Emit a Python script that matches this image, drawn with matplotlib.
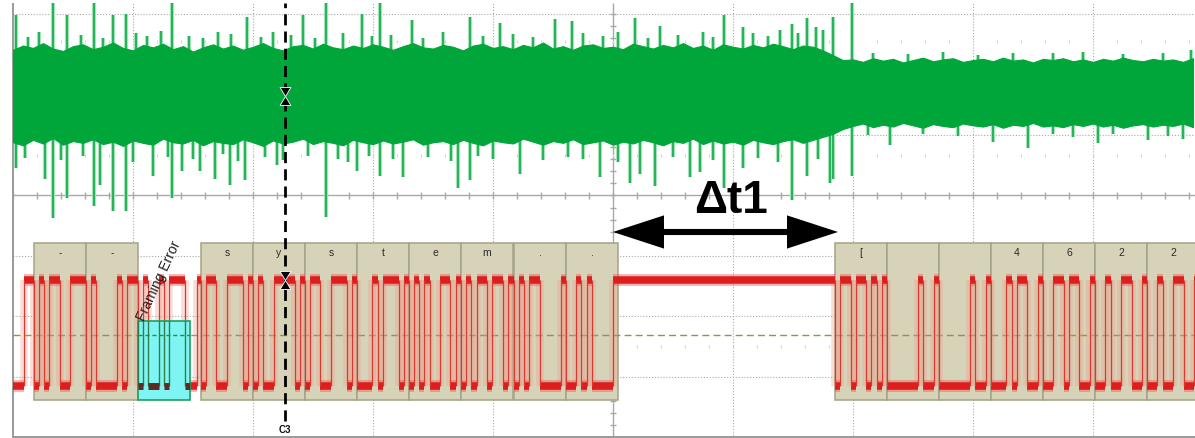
import numpy as np
import matplotlib
matplotlib.use("Agg")
import matplotlib.pyplot as plt
from matplotlib.patches import Rectangle, Polygon
from matplotlib.path import Path

# ---------------- time base / screen ----------------
# time in microseconds, 1200 us per horizontal division; vertical in divisions
T_DIV = 1200
T_END = 11820
Y_TOP, Y_BOT = 3.25, -4.012
SCREEN_TOP = 3.19

# ---------------- channel 1 (green): noisy carrier ----------------
env_t = np.arange(0, 11801, 100)
env_top = [2.41, 2.48, 2.44, 2.52, 2.43, 2.39, 2.47, 2.50, 2.42, 2.46,
           2.53, 2.44, 2.40, 2.49, 2.45, 2.51, 2.42, 2.47, 2.38, 2.45,
           2.50, 2.43, 2.48, 2.41, 2.46, 2.52, 2.44, 2.40, 2.47, 2.49,
           2.43, 2.51, 2.45, 2.42, 2.48, 2.44, 2.50, 2.46, 2.41, 2.47,
           2.52, 2.45, 2.43, 2.49, 2.46, 2.40, 2.48, 2.51, 2.44, 2.47,
           2.42, 2.49, 2.45, 2.53, 2.43, 2.47, 2.41, 2.48, 2.50, 2.44,
           2.46, 2.42, 2.51, 2.47, 2.43, 2.49, 2.45, 2.52, 2.44, 2.48,
           2.41, 2.50, 2.46, 2.43, 2.49, 2.45, 2.51, 2.47, 2.42, 2.48,
           2.46, 2.40, 2.32, 2.24,
           2.25, 2.21, 2.27, 2.23, 2.26, 2.20, 2.24, 2.28, 2.22, 2.25,
           2.27, 2.21, 2.24, 2.26, 2.22, 2.28, 2.23, 2.25, 2.20, 2.26,
           2.24, 2.27, 2.22, 2.25, 2.21, 2.26, 2.23, 2.28, 2.24, 2.22,
           2.26, 2.23, 2.25, 2.21, 2.27]
env_bot = [0.88, 0.83, 0.92, 0.86, 0.95, 0.84, 0.90, 0.87, 0.93, 0.85,
           0.89, 0.82, 0.91, 0.87, 0.84, 0.94, 0.88, 0.86, 0.92, 0.83,
           0.90, 0.87, 0.85, 0.93, 0.88, 0.82, 0.91, 0.86, 0.89, 0.94,
           0.85, 0.90, 0.87, 0.83, 0.92, 0.88, 0.85, 0.91, 0.86, 0.89,
           0.93, 0.84, 0.88, 0.90, 0.85, 0.92, 0.87, 0.83, 0.91, 0.88,
           0.86, 0.94, 0.89, 0.84, 0.90, 0.87, 0.93, 0.85, 0.88, 0.91,
           0.84, 0.89, 0.86, 0.92, 0.88, 0.83, 0.90, 0.87, 0.94, 0.85,
           0.91, 0.86, 0.89, 0.84, 0.92, 0.88, 0.85, 0.90, 0.93, 0.87,
           0.92, 0.97, 1.02, 1.10,
           1.15, 1.19, 1.13, 1.17, 1.14, 1.20, 1.16, 1.12, 1.18, 1.15,
           1.13, 1.19, 1.16, 1.14, 1.18, 1.12, 1.17, 1.15, 1.20, 1.14,
           1.16, 1.13, 1.18, 1.15, 1.19, 1.14, 1.17, 1.12, 1.16, 1.18,
           1.14, 1.17, 1.15, 1.19, 1.13]
ch1_center = 1.66

spike_up_t = [30, 150, 260, 400, 540, 680, 810, 900, 1000, 1130, 1230, 1340,
              1480, 1590, 1760, 1900, 2050, 2180, 2340, 2480, 2600, 2780,
              2900, 3020, 3130, 3300, 3490, 3590, 3670, 3780, 3990, 4100,
              4300, 4570, 4700, 4870, 5000, 5200, 5420, 5590, 5700, 5900,
              6050, 6220, 6350, 6470, 6650, 6900, 7000, 7110, 7300, 7400,
              7550, 7670, 7790, 7850, 7940, 8030, 8100, 8200, 8390,
              8600, 8950, 9300, 9650, 10000, 10400, 10700, 11100, 11500, 11780]
spike_up_v = [2.98, 2.62, 2.70, 3.19, 2.98, 2.66, 3.19, 2.60, 2.98, 3.01, 2.68, 2.63,
              2.72, 3.19, 2.64, 2.61, 2.71, 2.67, 2.96, 2.62, 2.70, 2.65,
              2.98, 2.60, 3.19, 2.69, 3.01, 2.63, 3.19, 2.66, 2.90, 2.61,
              2.70, 2.95, 2.64, 2.85, 2.67, 2.62, 2.92, 2.88, 2.68, 2.63,
              2.71, 2.93, 2.60, 2.80, 2.66, 2.70, 2.62, 2.98, 2.79, 2.68,
              2.64, 2.73, 2.84, 2.69, 2.93, 2.79, 2.74, 2.96, 3.19,
              2.36, 2.34, 2.38, 2.33, 2.36, 2.35, 2.37, 2.34, 2.36, 2.40]
spike_dn_t = [30, 120, 320, 400, 480, 540, 700, 810, 870, 1000, 1130, 1200,
              1400, 1550, 1590, 1690, 1800, 1870, 2020, 2100, 2170, 2250,
              2320, 2520, 2640, 2700, 2950, 3130, 3250, 3350, 3440, 3560,
              3670, 3800, 3900, 4150, 4380, 4450, 4570, 4650, 4800, 5070,
              5300, 5550, 5700, 5870, 6050, 6170, 6270, 6420, 6600, 6770,
              6870, 7000, 7110, 7300, 7450, 7650, 7790, 7940, 8050, 8170,
              8200, 8390, 8550, 8770, 9100, 9450, 9800, 10150, 10400,
              10600, 10850, 11000, 11350, 11550, 11700]
spike_dn_v = [0.45, 0.62, 0.28, -0.38, 0.58, -0.05, 0.66, -0.17, 0.17, -0.26, -0.25, 0.55,
              0.33, 0.63, -0.05, 0.40, 0.60, 0.40, 0.28, 0.68, 0.17, 0.57,
              0.25, 0.64, 0.50, 0.59, 0.66, -0.35, 0.61, 0.56, 0.40, 0.65,
              0.33, 0.60, 0.30, 0.63, 0.57, 0.12, 0.25, 0.66, 0.60, 0.35,
              0.58, 0.64, 0.61, 0.30, 0.55, 0.20, 0.35, 0.15, 0.63, 0.30,
              0.38, 0.59, 0.12, 0.45, 0.62, 0.56, -0.08, 0.33, 0.60, 0.20,
              0.28, 0.33, 1.00, 0.83, 1.02, 0.98, 0.89, 0.78, 1.01,
              0.97, 0.86, 1.02, 0.91, 0.99, 0.94]

# ---------------- channel 2 (red): UART line ----------------
uart_high = -1.405
uart_low = -3.157
uart_threshold = -2.307
# edge times (us); the line starts low, each edge toggles the level
uart_edges = [110, 210, 260, 310, 360, 470, 570, 730, 780, 830, 1040, 1090,
              1140, 1250, 1300, 1350, 1460, 1510, 1560, 1720, 1840,
              1880, 1930, 2030, 2140, 2300, 2350,
              2400, 2450, 2500, 2610, 2820, 2870,
              2920, 2970, 3070, 3180, 3340, 3390,
              3440, 3590, 3650, 3700, 3860, 3910,
              3960, 4010, 4060, 4110, 4170, 4270, 4370, 4430,
              4480, 4530, 4580, 4640, 4740, 4790, 4900, 4950,
              5010, 5060, 5110, 5160, 5270, 5480,
              5530, 5630, 5680, 5740, 5790, 6000,
              8220, 8270, 8380, 8430, 8530, 8580, 8640, 8690,
              8740, 9050, 9100, 9210,
              9260, 9570, 9620, 9730,
              9780, 9930, 9990, 10040, 10140, 10250,
              10300, 10400, 10510, 10560, 10660, 10770,
              10820, 10920, 10980, 11080, 11190, 11290,
              11340, 11440, 11500, 11600, 11710, 11810]

# decoded frames
frame_width = 520
frame_starts = [210, 730,
                1880, 2400, 2920, 3440, 3960, 4480, 5010, 5530,
                8220, 8740, 9260, 9780, 10300, 10820, 11340]
frame_labels = ["-", "-",
                "s", "y", "s", "t", "e", "m", ".", ".",
                "[", "", "", "4", "6", "2", "2"]
frame_top, frame_bot = -0.79, -3.388
label_y = -0.93
ferr_start = 1250
ferr_top = -2.083

cursor_t = 2720
cursor_bottom = -3.73
dt_start, dt_end = 6000, 8250
dt_y = -0.604

# ---------------- colours ----------------
GREEN = "#00a63a"
RED = "#dc1e1e"
GRID = "#a9a9a9"
TAN = "#d6d3b8"
TAN_EDGE = "#a4a288"

fig = plt.figure(figsize=(11.95, 4.39), dpi=100)
ax = fig.add_axes([13 / 1195, 0, 1182 / 1195, 1])
ax.set_xlim(0, T_END)
ax.set_ylim(Y_BOT, Y_TOP)
ax.axis("off")

# ---------------- graticule ----------------
for k in range(1, 10):
    if k == 5:
        continue
    ax.vlines(k * T_DIV, Y_BOT, SCREEN_TOP, colors=GRID, lw=0.8,
              linestyles=(0, (1, 1.6)), zorder=0)
for yv in (3, 2, 1, -1, -2, -3):
    ax.hlines(yv, 0, T_END, colors=GRID, lw=0.8, linestyles=(0, (1, 1.6)), zorder=0)
ax.vlines(5 * T_DIV, Y_BOT, SCREEN_TOP, colors=GRID, lw=1.0, zorder=0)
ax.hlines(0, 0, T_END, colors=GRID, lw=1.0, zorder=0)
minor_t = np.arange(0, T_END, T_DIV / 5)
ax.vlines(minor_t, -0.06, 0.06, colors=GRID, lw=1.0, zorder=0)
minor_y = np.arange(-4, 3.2, 0.2)
ax.hlines(minor_y, 5 * T_DIV - 30, 5 * T_DIV + 30, colors=GRID, lw=1.0, zorder=0)
# faint reference dots
for yv in (2.545, 0.66, -2.5):
    ax.vlines(minor_t, yv - 0.03, yv + 0.03, colors="#d6d6d6", lw=0.8, zorder=0.5)
# screen frame
ax.vlines(0, Y_BOT, SCREEN_TOP, colors="#9a9a9a", lw=1.4, clip_on=False, zorder=1)
ax.hlines(-3.99, 0, T_END, colors="#9a9a9a", lw=1.4, clip_on=False, zorder=1)

# ---------------- channel 1 ----------------
ax.vlines(spike_up_t, ch1_center, spike_up_v, colors="#a6e2bb", lw=3.0, zorder=1.8)
ax.vlines(spike_dn_t, spike_dn_v, ch1_center, colors="#a6e2bb", lw=3.0, zorder=1.8)
ax.fill_between(env_t, env_bot, env_top, color=GREEN, lw=0.8, edgecolor=GREEN, zorder=2)
ax.vlines(spike_up_t, ch1_center, spike_up_v, colors=GREEN, lw=1.1, zorder=2)
ax.vlines(spike_dn_t, spike_dn_v, ch1_center, colors=GREEN, lw=1.1, zorder=2)

# ---------------- decode boxes ----------------
for s, lab in zip(frame_starts, frame_labels):
    ax.add_patch(Rectangle((s, frame_bot), frame_width, frame_top - frame_bot,
                           facecolor=TAN, edgecolor=TAN_EDGE, lw=1.1, zorder=1))
    ax.text(s + frame_width / 2, label_y, lab, ha="center", va="center",
            fontsize=7.5, family="Liberation Sans", color="#2a2a2a", zorder=4)

# threshold line
ax.hlines(uart_threshold, 0, T_END, colors="#9d8f3e", lw=1.0,
          linestyles=(0, (5, 3)), zorder=1.5)

# ---------------- channel 2 trace ----------------
bounds = [0] + uart_edges + [T_END]
seg_levels = np.array([uart_low if i % 2 == 0 else uart_high
                       for i in range(len(bounds) - 1)])
seg_start = np.array(bounds[:-1], dtype=float)
seg_end = np.array(bounds[1:], dtype=float)

ax.vlines(uart_edges, uart_low, uart_high, colors="#f29a88", lw=5.5, alpha=0.33, zorder=2)
ax.hlines(seg_levels, seg_start, seg_end, colors="#ee5555", lw=8.5, alpha=0.45, zorder=3)
ax.hlines(seg_levels, seg_start, seg_end, colors=RED, lw=5.4, zorder=3)
ax.vlines(uart_edges, uart_low, uart_high, colors="#d63a30", lw=0.9, zorder=3)

# ---------------- framing error ----------------
ferr = Rectangle((ferr_start, frame_bot), frame_width, ferr_top - frame_bot,
                 facecolor="#7ff5f3", edgecolor="#1f9f5c", lw=1.2, zorder=5)
ax.add_patch(ferr)
err_edges = [e for e in uart_edges if ferr_start <= e <= ferr_start + frame_width]
l1 = ax.vlines(err_edges, uart_low, uart_high, colors="#2f7d4a", lw=1.0, zorder=6)
low_mask = seg_levels == uart_low
l2 = ax.hlines(seg_levels[low_mask], seg_start[low_mask], seg_end[low_mask],
               colors="#5e2a24", lw=5.0, zorder=6)
l3 = ax.hlines(uart_threshold, 0, T_END, colors="#1f8f40", lw=1.0,
               linestyles=(0, (3, 2)), zorder=6)
for art in (l1, l2, l3):
    art.set_clip_path(ferr)
ax.text(ferr_start + 60, ferr_top + 0.01, "Framing Error", rotation=65,
        rotation_mode="anchor", ha="left", va="baseline", fontsize=10,
        family="Liberation Sans", color="#222222", zorder=7)

# ---------------- cursor C3 ----------------
ax.vlines(cursor_t, cursor_bottom, SCREEN_TOP, colors="black", lw=2.0,
          linestyles=(0, (4, 2.2)), zorder=9)
ax.text(cursor_t, -3.87, "C3", ha="center", va="center", fontsize=7,
        fontweight="bold", family="Liberation Sans", color="#111111", zorder=9)
hourglass = Path([(-0.6, 1), (0.6, 1), (0, 0), (-0.6, 1),
                  (-0.6, -1), (0.6, -1), (0, 0), (-0.6, -1)],
                 [Path.MOVETO, Path.LINETO, Path.LINETO, Path.CLOSEPOLY,
                  Path.MOVETO, Path.LINETO, Path.LINETO, Path.CLOSEPOLY])
ax.plot([cursor_t, cursor_t], [ch1_center - 0.01, uart_high], ls="none",
        marker=hourglass, ms=13, mfc="black", mec="white", mew=0.6, zorder=10)

# ---------------- delta-t annotation ----------------
head_len = 510
head_half = 0.275
ax.hlines(dt_y, dt_start + head_len - 20, dt_end - head_len + 20, colors="black",
          lw=4.4, zorder=8)
for tip, sgn in ((dt_start, 1), (dt_end, -1)):
    ax.add_patch(Polygon([(tip, dt_y), (tip + sgn * head_len, dt_y + head_half),
                          (tip + sgn * head_len, dt_y - head_half)],
                         closed=True, facecolor="black", edgecolor="none", zorder=8))
ax.text((dt_start + dt_end) / 2 + 50, -0.27, "\u0394t1", ha="center", va="baseline",
        fontsize=33, fontweight="bold", family="Liberation Sans", color="black",
        zorder=8)

fig.savefig("out.png", dpi=100)
